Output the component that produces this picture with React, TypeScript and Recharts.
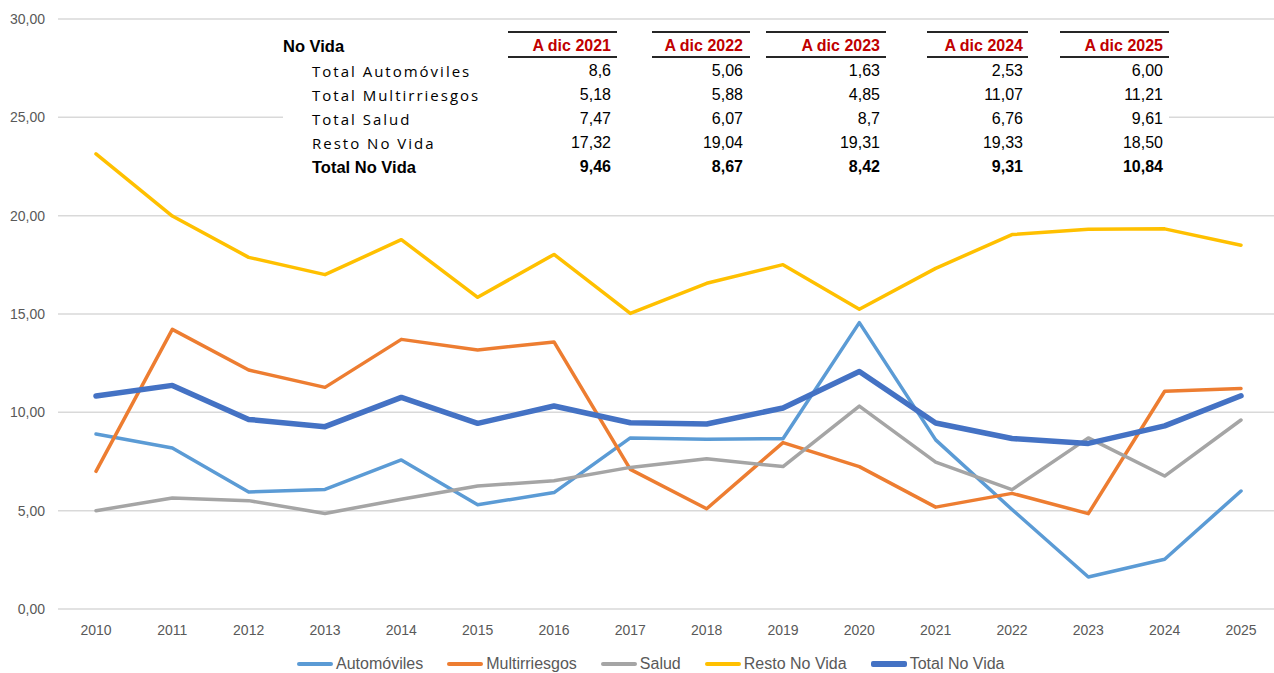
import React from 'react';
import { LineChart, Line, XAxis, YAxis, CartesianGrid, Legend } from 'recharts';

const years = ['2010', '2011', '2012', '2013', '2014', '2015', '2016', '2017', '2018', '2019', '2020', '2021', '2022', '2023', '2024', '2025'];
const automoviles = [8.9, 8.19, 5.95, 6.08, 7.58, 5.3, 5.92, 8.7, 8.63, 8.66, 14.56, 8.6, 5.06, 1.63, 2.53, 6.0];
const multirriesgos = [7.0, 14.22, 12.15, 11.27, 13.71, 13.17, 13.58, 7.1, 5.1, 8.46, 7.24, 5.18, 5.88, 4.85, 11.07, 11.21];
const salud = [5.0, 5.64, 5.51, 4.86, 5.58, 6.25, 6.52, 7.2, 7.64, 7.24, 10.32, 7.47, 6.07, 8.7, 6.76, 9.61];
const restoNoVida = [23.14, 19.98, 17.88, 17.0, 18.78, 15.85, 18.03, 15.03, 16.56, 17.51, 15.24, 17.32, 19.04, 19.31, 19.33, 18.5];
const totalNoVida = [10.83, 11.37, 9.64, 9.27, 10.76, 9.44, 10.32, 9.47, 9.41, 10.22, 12.08, 9.46, 8.67, 8.42, 9.31, 10.84];
const yTicks = [0, 5, 10, 15, 20, 25, 30];

// table in the top of the chart
const tableTitle = 'No Vida';
const tableHeaders = ['A dic 2021', 'A dic 2022', 'A dic 2023', 'A dic 2024', 'A dic 2025'];
const tableLabels = ['Total Automóviles', 'Total Multirriesgos', 'Total Salud', 'Resto No Vida', 'Total No Vida'];
const tableValues = [
  ['8,6', '5,06', '1,63', '2,53', '6,00'],
  ['5,18', '5,88', '4,85', '11,07', '11,21'],
  ['7,47', '6,07', '8,7', '6,76', '9,61'],
  ['17,32', '19,04', '19,31', '19,33', '18,50'],
  ['9,46', '8,67', '8,42', '9,31', '10,84'],
];

const series = [
  { key: 'auto', name: 'Automóviles', color: '#5B9BD5', width: 3.5, values: automoviles },
  { key: 'multi', name: 'Multirriesgos', color: '#ED7D31', width: 3.5, values: multirriesgos },
  { key: 'salud', name: 'Salud', color: '#A5A5A5', width: 3.5, values: salud },
  { key: 'resto', name: 'Resto No Vida', color: '#FFC000', width: 3.5, values: restoNoVida },
  { key: 'total', name: 'Total No Vida', color: '#4472C4', width: 5.5, values: totalNoVida },
];

const data = years.map((year, i) => {
  const row: Record<string, string | number> = { year };
  series.forEach(s => { row[s.key] = s.values[i]; });
  return row;
});

const axisFont = "'Liberation Sans', Arial, sans-serif";

// column geometry of the table (page px)
const colLineLeft = [508, 652, 766, 927, 1060];
const colLineRight = [617, 750, 886, 1028, 1169];
const colTextRight = [611, 743, 880, 1023, 1163];
const rowCenters = [70.5, 94.5, 118.5, 142.5, 166.5];
const BOX_LEFT = 283;
const BOX_TOP = 26;

const renderLegend = () => (
  <div style={{ display: 'flex', alignItems: 'center', height: 28, paddingLeft: 297, boxSizing: 'border-box', paddingTop: 10 }}>
    {series.map((s, i) => (
      <div key={s.key} style={{ display: 'flex', alignItems: 'center', marginRight: i < series.length - 1 ? 24 : 0 }}>
        <div style={{ width: 36, height: s.width, background: s.color, borderRadius: 2, marginRight: 3 }} />
        <span style={{ fontFamily: axisFont, fontSize: 16, color: '#595959', lineHeight: '18px' }}>{s.name}</span>
      </div>
    ))}
  </div>
);

const DataTable = () => {
  const labelStyle: React.CSSProperties = {
    position: 'absolute', left: 312 - BOX_LEFT, fontFamily: "'Open Sans', sans-serif", fontSize: 15,
    letterSpacing: 2, color: '#000', lineHeight: '24px', whiteSpace: 'nowrap',
  };
  const numStyle: React.CSSProperties = {
    position: 'absolute', fontFamily: axisFont, fontSize: 16, color: '#000', lineHeight: '24px', textAlign: 'right', whiteSpace: 'nowrap',
  };
  return (
    <div style={{ position: 'absolute', left: BOX_LEFT, top: BOX_TOP, width: 1169 - BOX_LEFT, height: 156, background: '#fff', zIndex: 2 }}>
      <div style={{ position: 'absolute', left: 0, top: 45.5 - 12 - BOX_TOP, fontFamily: axisFont, fontWeight: 700, fontSize: 16.5, lineHeight: '24px', color: '#000' }}>
        {tableTitle}
      </div>
      {tableHeaders.map((h, c) => (
        <React.Fragment key={h}>
          <div style={{ position: 'absolute', left: colLineLeft[c] - BOX_LEFT, width: colLineRight[c] - colLineLeft[c], top: 31 - BOX_TOP, height: 2, background: '#262626' }} />
          <div style={{ position: 'absolute', left: colLineLeft[c] - BOX_LEFT, width: colLineRight[c] - colLineLeft[c], top: 56 - BOX_TOP, height: 2, background: '#262626' }} />
          <div style={{ ...numStyle, right: 1169 - colTextRight[c], top: 45.5 - 12 - BOX_TOP, fontWeight: 700, color: '#C00000' }}>{h}</div>
        </React.Fragment>
      ))}
      {tableLabels.map((label, r) => {
        const bold = r === tableLabels.length - 1;
        return (
          <React.Fragment key={label}>
            <div style={{ ...labelStyle, top: rowCenters[r] - 12 - BOX_TOP, ...(bold ? { fontFamily: axisFont, fontWeight: 700, fontSize: 16.5, letterSpacing: 0 } : {}) }}>{label}</div>
            {tableValues[r].map((v, c) => (
              <div key={c} style={{ ...numStyle, right: 1169 - colTextRight[c], top: rowCenters[r] - 12 - BOX_TOP, fontWeight: bold ? 700 : 400 }}>{v}</div>
            ))}
          </React.Fragment>
        );
      })}
    </div>
  );
};

export default function App() {
  return (
    <div style={{ position: 'absolute', left: 0, top: 0, width: 1274, height: 673, background: '#fff', overflow: 'hidden' }}>
      <LineChart width={1274} height={673} data={data} margin={{ top: 19, right: 0, left: 0, bottom: 0 }}>
        <CartesianGrid vertical={false} stroke="#D9D9D9" strokeWidth={1.5} />
        <XAxis
          dataKey="year"
          axisLine={false}
          tickLine={false}
          interval={0}
          height={36}
          tickMargin={10}
          padding={{ left: 38, right: 33 }}
          tick={{ fill: '#595959', fontSize: 14, fontFamily: axisFont }}
        />
        <YAxis
          domain={[0, 30]}
          ticks={yTicks}
          axisLine={false}
          tickLine={false}
          width={58}
          tickMargin={7}
          tickFormatter={(v: number) => v.toFixed(2).replace('.', ',')}
          tick={{ fill: '#595959', fontSize: 14, fontFamily: axisFont }}
        />
        <Legend verticalAlign="bottom" height={28} content={renderLegend} wrapperStyle={{ left: 0, width: 1274, height: 28 }} />
        {series.map(s => (
          <Line
            key={s.key}
            type="linear"
            dataKey={s.key}
            name={s.name}
            stroke={s.color}
            strokeWidth={s.width}
            strokeLinejoin="round"
            strokeLinecap="round"
            dot={false}
            activeDot={false}
            isAnimationActive={false}
          />
        ))}
      </LineChart>
      <DataTable />
    </div>
  );
}
